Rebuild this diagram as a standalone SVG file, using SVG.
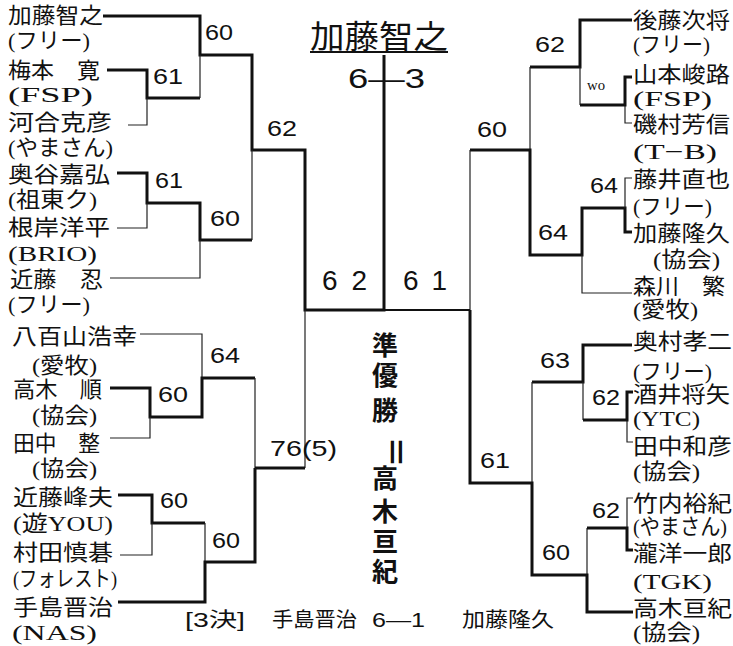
<svg xmlns="http://www.w3.org/2000/svg" width="733" height="646" viewBox="0 0 733 646">
<style>
.nm{font-family:"Liberation Serif","Noto Sans CJK JP",serif;font-size:22px;fill:#111}
.sc{font-family:"Liberation Sans","Noto Sans CJK JP",sans-serif;font-size:22px;fill:#111}
.wo{font-family:"Liberation Serif",serif;font-size:14px;fill:#111}
.big{font-family:"Liberation Sans","Noto Sans CJK JP",sans-serif;font-size:28px;fill:#111}
.ttl{font-family:"Liberation Serif","Noto Sans CJK JP",serif;font-size:32px;fill:#111}
.vt{font-family:"Noto Sans CJK JP",sans-serif;font-size:26px;font-weight:700;fill:#111}
.ft{font-family:"Liberation Sans","Noto Sans CJK JP",sans-serif;font-size:20px;fill:#111}
.tk{fill:none;stroke:#111;stroke-width:3;stroke-linejoin:miter}
.tn{fill:none;stroke:#222;stroke-width:1.2}
.md{fill:none;stroke:#111;stroke-width:1.8}
</style>
<rect width="733" height="646" fill="#fff"/>
<g id="connectors">
<path class="tk" d="M103,16H200V55H252V150H305V310H384V55"/>
<path class="tk" d="M107,70H147V98H200"/>
<path class="tk" d="M117,173H147V203H200V240H252"/>
<path class="tn" d="M200,55V98M128,125H147V98M147,203V228H117M200,240V278H110M252,150V240"/>
<path class="tn" d="M140,334H202V378"/>
<path class="tk" d="M110,388H150V417H202V378H255"/>
<path class="tn" d="M150,417V438H110M255,378V468M305,468V310"/>
<path class="tk" d="M255,468H305"/>
<path class="tk" d="M118,495H152V523H205"/>
<path class="tn" d="M152,523V555H120M205,523V562"/>
<path class="tk" d="M118,602H205V562H255V468"/>
<path class="tk" d="M632,20H580V67H530"/>
<path class="tn" d="M530,67V150M580,67V105M625,105V123H632"/>
<path class="tk" d="M580,105H625V77H632"/>
<path class="tk" d="M470,150H530V255H582V208H625V232H632"/>
<path class="tn" d="M625,208V178H632M582,255V293H632M470,150V310"/>
<path class="md" d="M384,310H470"/>
<path class="tk" d="M632,345H583V382H532"/>
<path class="tn" d="M532,382V483M583,382V420M627,420V442H633M587,575V528M627,528V498H633"/>
<path class="tk" d="M583,420H627V392H633"/>
<path class="tk" d="M470,310V483H532V575H587V612H633"/>
<path class="tk" d="M587,528H627V550H633"/>
<line class="md" x1="310" y1="52" x2="448" y2="52"/>
</g>
<g id="p1"><text class="nm" x="8" y="23" textLength="95" lengthAdjust="spacingAndGlyphs">加藤智之</text><text class="nm" x="8" y="48" textLength="82" lengthAdjust="spacingAndGlyphs">(フリー)</text></g>
<g id="p2"><text class="nm" x="8" y="78" textLength="92" lengthAdjust="spacingAndGlyphs">梅本　寛</text><text class="nm" x="8" y="102" textLength="85" lengthAdjust="spacingAndGlyphs">(FSP)</text></g>
<g id="p3"><text class="nm" x="8" y="130" textLength="104" lengthAdjust="spacingAndGlyphs">河合克彦</text><text class="nm" x="8" y="155" textLength="105" lengthAdjust="spacingAndGlyphs">(やまさん)</text></g>
<g id="p4"><text class="nm" x="8" y="182" textLength="102" lengthAdjust="spacingAndGlyphs">奥谷嘉弘</text><text class="nm" x="8" y="207" textLength="89" lengthAdjust="spacingAndGlyphs">(祖東ク)</text></g>
<g id="p5"><text class="nm" x="8" y="235" textLength="102" lengthAdjust="spacingAndGlyphs">根岸洋平</text><text class="nm" x="8" y="261" textLength="89" lengthAdjust="spacingAndGlyphs">(BRIO)</text></g>
<g id="p6"><text class="nm" x="10" y="287" textLength="93" lengthAdjust="spacingAndGlyphs">近藤　忍</text><text class="nm" x="8" y="312" textLength="82" lengthAdjust="spacingAndGlyphs">(フリー)</text></g>
<g id="p7"><text class="nm" x="12" y="344" textLength="125" lengthAdjust="spacingAndGlyphs">八百山浩幸</text><text class="nm" x="32" y="373" textLength="65" lengthAdjust="spacingAndGlyphs">(愛牧)</text></g>
<g id="p8"><text class="nm" x="13" y="397" textLength="89" lengthAdjust="spacingAndGlyphs">高木　順</text><text class="nm" x="32" y="423" textLength="65" lengthAdjust="spacingAndGlyphs">(協会)</text></g>
<g id="p9"><text class="nm" x="13" y="451" textLength="87" lengthAdjust="spacingAndGlyphs">田中　整</text><text class="nm" x="32" y="476" textLength="65" lengthAdjust="spacingAndGlyphs">(協会)</text></g>
<g id="p10"><text class="nm" x="13" y="505" textLength="100" lengthAdjust="spacingAndGlyphs">近藤峰夫</text><text class="nm" x="13" y="531" textLength="100" lengthAdjust="spacingAndGlyphs">(遊YOU)</text></g>
<g id="p11"><text class="nm" x="13" y="560" textLength="100" lengthAdjust="spacingAndGlyphs">村田慎碁</text><text class="nm" x="13" y="586" textLength="104" lengthAdjust="spacingAndGlyphs">(フォレスト)</text></g>
<g id="p12"><text class="nm" x="13" y="615" textLength="100" lengthAdjust="spacingAndGlyphs">手島晋治</text><text class="nm" x="12" y="640" textLength="85" lengthAdjust="spacingAndGlyphs">(NAS)</text></g>
<g id="q1"><text class="nm" x="633" y="28" textLength="97" lengthAdjust="spacingAndGlyphs">後藤次将</text><text class="nm" x="633" y="52" textLength="77" lengthAdjust="spacingAndGlyphs">(フリー)</text></g>
<g id="q2"><text class="nm" x="633" y="82" textLength="97" lengthAdjust="spacingAndGlyphs">山本峻路</text><text class="nm" x="633" y="106" textLength="79" lengthAdjust="spacingAndGlyphs">(FSP)</text></g>
<g id="q3"><text class="nm" x="633" y="132" textLength="97" lengthAdjust="spacingAndGlyphs">磯村芳信</text><text class="nm" x="633" y="159" textLength="84" lengthAdjust="spacingAndGlyphs">(T−B)</text></g>
<g id="q4"><text class="nm" x="633" y="187" textLength="97" lengthAdjust="spacingAndGlyphs">藤井直也</text><text class="nm" x="633" y="214" textLength="79" lengthAdjust="spacingAndGlyphs">(フリー)</text></g>
<g id="q5"><text class="nm" x="633" y="241" textLength="97" lengthAdjust="spacingAndGlyphs">加藤隆久</text><text class="nm" x="653" y="267" textLength="67" lengthAdjust="spacingAndGlyphs">(協会)</text></g>
<g id="q6"><text class="nm" x="633" y="294" textLength="92" lengthAdjust="spacingAndGlyphs">森川　繁</text><text class="nm" x="633" y="317" textLength="65" lengthAdjust="spacingAndGlyphs">(愛牧)</text></g>
<g id="q7"><text class="nm" x="633" y="349" textLength="99" lengthAdjust="spacingAndGlyphs">奥村孝二</text><text class="nm" x="633" y="379" textLength="79" lengthAdjust="spacingAndGlyphs">(フリー)</text></g>
<g id="q8"><text class="nm" x="633" y="402" textLength="97" lengthAdjust="spacingAndGlyphs">酒井将矢</text><text class="nm" x="633" y="426" textLength="67" lengthAdjust="spacingAndGlyphs">(YTC)</text></g>
<g id="q9"><text class="nm" x="633" y="454" textLength="99" lengthAdjust="spacingAndGlyphs">田中和彦</text><text class="nm" x="633" y="479" textLength="67" lengthAdjust="spacingAndGlyphs">(協会)</text></g>
<g id="q10"><text class="nm" x="633" y="511" textLength="99" lengthAdjust="spacingAndGlyphs">竹内裕紀</text><text class="nm" x="633" y="534" textLength="94" lengthAdjust="spacingAndGlyphs">(やまさん)</text></g>
<g id="q11"><text class="nm" x="633" y="561" textLength="99" lengthAdjust="spacingAndGlyphs">瀧洋一郎</text><text class="nm" x="633" y="589" textLength="79" lengthAdjust="spacingAndGlyphs">(TGK)</text></g>
<g id="q12"><text class="nm" x="633" y="616" textLength="99" lengthAdjust="spacingAndGlyphs">高木亘紀</text><text class="nm" x="633" y="640" textLength="67" lengthAdjust="spacingAndGlyphs">(協会)</text></g>
<g id="scores">
<text class="sc" x="205" y="40" textLength="28" lengthAdjust="spacingAndGlyphs">60</text>
<text class="sc" x="153" y="84" textLength="30" lengthAdjust="spacingAndGlyphs">61</text>
<text class="sc" x="267" y="136" textLength="30" lengthAdjust="spacingAndGlyphs">62</text>
<text class="sc" x="155" y="188" textLength="28" lengthAdjust="spacingAndGlyphs">61</text>
<text class="sc" x="210" y="226" textLength="30" lengthAdjust="spacingAndGlyphs">60</text>
<text class="sc" x="210" y="363" textLength="30" lengthAdjust="spacingAndGlyphs">64</text>
<text class="sc" x="158" y="402" textLength="30" lengthAdjust="spacingAndGlyphs">60</text>
<text class="sc" x="270" y="456" textLength="67" lengthAdjust="spacingAndGlyphs">76(5)</text>
<text class="sc" x="160" y="508" textLength="28" lengthAdjust="spacingAndGlyphs">60</text>
<text class="sc" x="212" y="548" textLength="28" lengthAdjust="spacingAndGlyphs">60</text>
<text class="sc" x="535" y="52" textLength="30" lengthAdjust="spacingAndGlyphs">62</text>
<text class="wo" x="587" y="90" textLength="18" lengthAdjust="spacingAndGlyphs">wo</text>
<text class="sc" x="477" y="137" textLength="30" lengthAdjust="spacingAndGlyphs">60</text>
<text class="sc" x="590" y="193" textLength="28" lengthAdjust="spacingAndGlyphs">64</text>
<text class="sc" x="538" y="240" textLength="30" lengthAdjust="spacingAndGlyphs">64</text>
<text class="sc" x="540" y="368" textLength="30" lengthAdjust="spacingAndGlyphs">63</text>
<text class="sc" x="592" y="405" textLength="28" lengthAdjust="spacingAndGlyphs">62</text>
<text class="sc" x="480" y="468" textLength="30" lengthAdjust="spacingAndGlyphs">61</text>
<text class="sc" x="592" y="518" textLength="28" lengthAdjust="spacingAndGlyphs">62</text>
<text class="sc" x="542" y="560" textLength="28" lengthAdjust="spacingAndGlyphs">60</text>
<text class="big" x="322" y="290" textLength="45" lengthAdjust="spacing">62</text>
<text class="big" x="403" y="290" textLength="44" lengthAdjust="spacing">61</text>
</g>
<g id="final">
<text class="ttl" x="310" y="48" textLength="138" lengthAdjust="spacingAndGlyphs">加藤智之</text>
<text class="big" x="348" y="88" font-size="30" textLength="77" lengthAdjust="spacingAndGlyphs">6—3</text>
</g>
<g id="runnerup">
<text class="vt"><tspan x="372" y="355">準</tspan><tspan x="372" y="385">優</tspan><tspan x="372" y="420">勝</tspan><tspan x="384" y="436" rotate="90" font-size="32">＝</tspan><tspan x="372" y="488">高</tspan><tspan x="372" y="521">木</tspan><tspan x="372" y="551">亘</tspan><tspan x="372" y="581">紀</tspan></text>
</g>
<g id="third">
<text class="ft" x="185" y="627" textLength="60" lengthAdjust="spacingAndGlyphs">[3決]</text>
<text class="ft" x="272" y="627" textLength="85" lengthAdjust="spacingAndGlyphs">手島晋治</text>
<text class="ft" x="372" y="627" textLength="53" lengthAdjust="spacingAndGlyphs">6—1</text>
<text class="ft" x="462" y="627" textLength="92" lengthAdjust="spacingAndGlyphs">加藤隆久</text>
</g>
</svg>
